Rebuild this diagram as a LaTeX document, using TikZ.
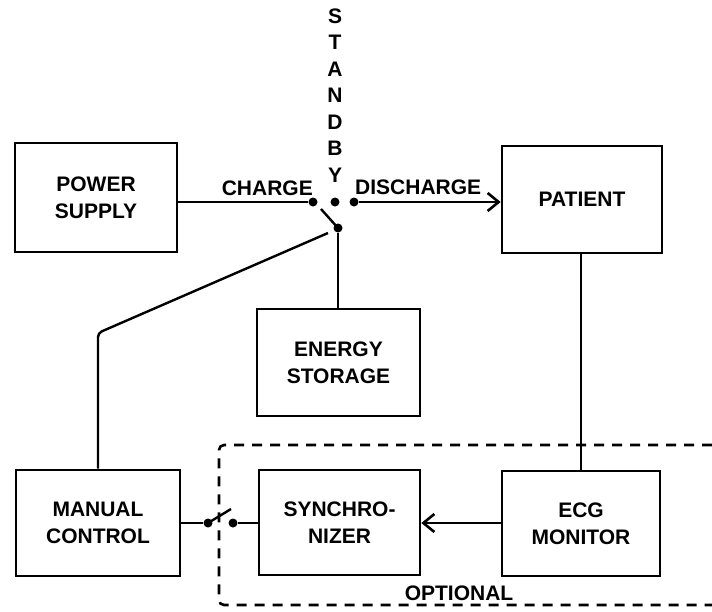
\documentclass[tikz,border=0pt]{standalone}
\usepackage{fontspec}
\setmainfont{Liberation Sans}
\usetikzlibrary{arrows.meta}
\tikzset{
  blk/.style={draw, line width=2.6pt, inner sep=0pt, align=center, font=\bfseries\fontsize{21}{27}\selectfont},
  lbl/.style={inner sep=0pt, font=\bfseries\fontsize{21}{27}\selectfont},
  dotn/.style={circle, fill, inner sep=0pt, minimum size=9pt},
  wire/.style={line width=2.4pt},
  arr/.style={wire, -{Straight Barb[length=11pt,width=18pt,line width=2.6pt]}},
  opt/.style={line width=2.6pt, dash pattern=on 10pt off 8pt, rounded corners=5pt}
}
\begin{document}
\begin{tikzpicture}[x=1pt,y=-1pt]
\useasboundingbox[fill=white] (0,0) rectangle (712,611);
% blocks
\node[blk, minimum width=162pt, minimum height=109pt] (power) at (96,197.5) {POWER\\SUPPLY};
\node[blk, minimum width=160pt, minimum height=107pt] (patient) at (582,199.5) {PATIENT};
\node[blk, minimum width=163pt, minimum height=107pt] (energy) at (338.5,362.5) {ENERGY\\STORAGE};
\node[blk, minimum width=164pt, minimum height=106pt] (manual) at (98,523) {MANUAL\\CONTROL};
\node[blk, minimum width=161pt, minimum height=105pt] (synch) at (339.5,522.5) {SYNCHRO-\\NIZER};
\node[blk, minimum width=158pt, minimum height=105pt] (ecg) at (581,523.5) {ECG\\MONITOR};
% switch contacts
\node[dotn] (chg) at (313,202) {};
\node[dotn] (stb) at (335,202) {};
\node[dotn] (dis) at (354,202) {};
\node[dotn] (piv) at (338,228) {};
\coordinate (blade) at (321,209);
\coordinate (diagstart) at (328,233);
\coordinate (corner) at (98,333);
\node[dotn] (sw1) at (208,523) {};
\node[dotn] (sw2) at (233,523) {};
\coordinate (blade2) at (231,509);
% labels
\node[lbl, anchor=east] (lcharge) at (313,188) {CHARGE};
\node[lbl, anchor=west] (ldischarge) at (355,187) {DISCHARGE};
\node[lbl] (loptional) at (459,593) {OPTIONAL};
\foreach \c/\yy [count=\i] in {S/16,T/42.5,A/69,N/95.5,D/122,B/148.5,Y/175}
  \node[lbl] (sb\i) at (335,\yy) {\c};
% connectors
\draw[wire] (chg) -- (chg -| power.east);
\draw[arr] (dis) -- (dis -| patient.west);
\draw[wire] (piv.center) -- (blade);
\draw[wire] (piv) -- (piv |- energy.north);
\draw[wire, rounded corners=4pt] (diagstart) -- (corner) -- (corner |- manual.north);
\draw[wire] (patient.south -| ecg.north) -- (ecg.north);
\draw[arr] (ecg.west |- sw1) -- (synch.east |- sw1);
\draw[wire] (manual.east |- sw1) -- (sw1);
\draw[wire] (sw1.center) -- (blade2);
\draw[wire] (sw2) -- (synch.west |- sw2);
% optional region
\draw[opt] (712,445) -- (219,445) -- (219,605) -- (712,605);
\end{tikzpicture}
\end{document}
